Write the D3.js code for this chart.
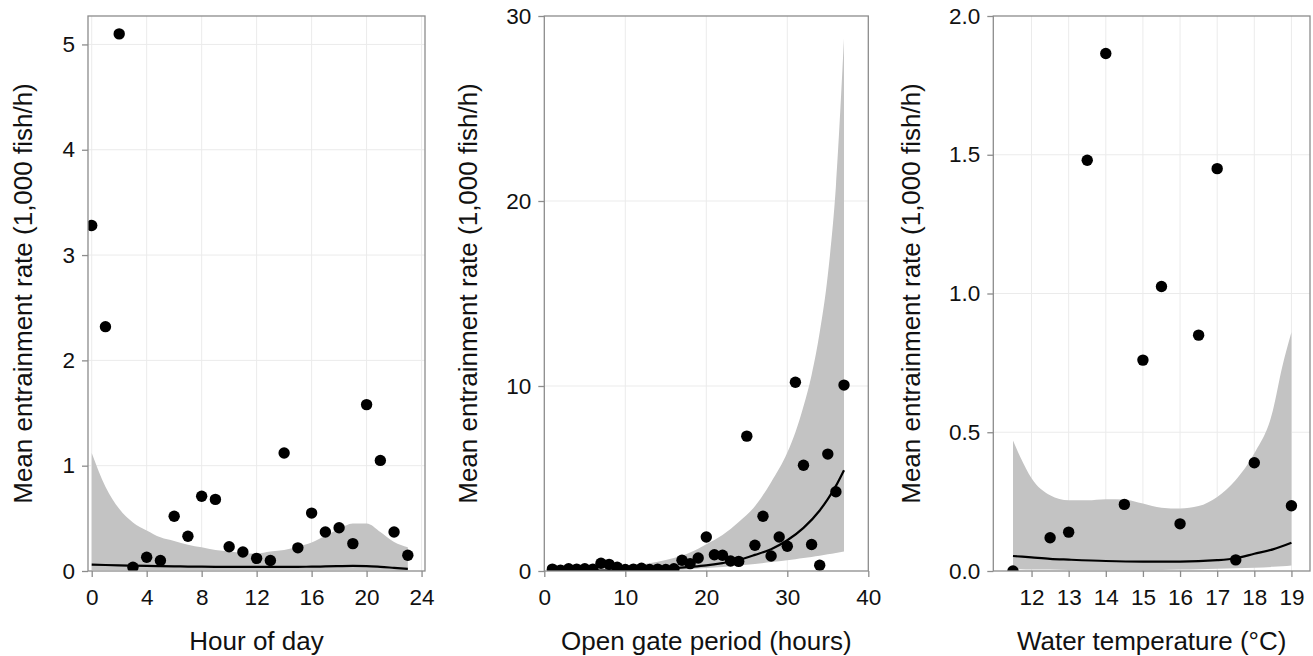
<!DOCTYPE html>
<html>
<head>
<meta charset="utf-8">
<script src="https://cdn.jsdelivr.net/npm/d3@7"></script>
<style>
  html, body { margin: 0; padding: 0; background: #fff; }
  svg { display: block; font-family: "Liberation Sans", Arial, sans-serif; }
</style>
</head>
<body>
<svg id="chart" width="1313" height="656"></svg>
<script>
// ---------- Panel 1: Hour of day ----------
const hours = [0,1,2,3,4,5,6,7,8,9,10,11,12,13,14,15,16,17,18,19,20,21,22,23];
const hourRate = [3.28,2.32,5.10,0.035,0.13,0.10,0.52,0.33,0.71,0.68,0.23,0.18,0.12,0.10,1.12,0.22,0.55,0.37,0.41,0.26,1.58,1.05,0.37,0.15];
const hourFit = [0.06,0.057,0.054,0.051,0.048,0.046,0.044,0.042,0.041,0.04,0.04,0.04,0.04,0.04,0.04,0.04,0.041,0.043,0.046,0.048,0.047,0.04,0.03,0.02];
const hourUpper = [1.12,0.80,0.59,0.46,0.385,0.32,0.285,0.25,0.225,0.20,0.185,0.17,0.165,0.185,0.20,0.23,0.27,0.335,0.40,0.45,0.45,0.37,0.275,0.225];
const hourLower = [0.01,0.01,0.01,0.01,0.01,0.01,0.01,0.01,0.01,0.01,0.01,0.01,0.01,0.01,0.01,0.01,0.01,0.01,0.01,0.01,0.01,0.01,0.008,0.005];
const hourTicksX = [0,4,8,12,16,20,24];
const hourTicksY = [0,1,2,3,4,5];

// ---------- Panel 2: Open gate period ----------
const gateHours = [1,2,3,4,5,6,7,8,9,10,11,12,13,14,15,16,17,18,19,20,21,22,23,24,25,26,27,28,29,30,31,32,33,34,35,36,37];
const gateRate = [0.10,0.05,0.12,0.10,0.12,0.10,0.42,0.36,0.20,0.08,0.10,0.15,0.08,0.10,0.08,0.12,0.58,0.40,0.70,1.84,0.88,0.85,0.54,0.52,7.29,1.39,2.96,0.81,1.84,1.34,10.2,5.72,1.43,0.31,6.32,4.28,10.05];
const gateFitX = [1,5,10,15,18,20,22,24,26,28,30,32,34,35,36,37];
const gateFit = [0.012,0.024,0.055,0.13,0.22,0.30,0.43,0.60,0.87,1.18,1.66,2.33,3.27,3.88,4.6,5.45];
const gateBandX = [1,5,10,14,16,18,20,22,24,26,28,30,31,32,33,34,35,36,37];
const gateUpper = [0.05,0.10,0.25,0.50,0.70,1.00,1.45,1.95,2.65,3.50,4.80,6.40,7.50,8.90,10.6,12.9,16.0,20.8,28.8];
const gateLower = [0.002,0.005,0.02,0.04,0.06,0.10,0.16,0.22,0.30,0.38,0.48,0.58,0.64,0.70,0.76,0.82,0.90,0.97,1.05];
const gateTicksX = [0,10,20,30,40];
const gateTicksY = [0,10,20,30];

// ---------- Panel 3: Water temperature ----------
const temps = [11.5,12.5,13,13.5,14,14.5,15,15.5,16,16.5,17,17.5,18,19];
const tempRate = [0.0,0.12,0.14,1.48,1.865,0.24,0.76,1.025,0.17,0.85,1.45,0.04,0.39,0.235];
const tempBandX = [11.5,11.7,12,12.5,13,13.5,14,14.5,15,15.5,16,16.5,17,17.5,18,18.5,18.75,19];
const tempUpper = [0.47,0.41,0.334,0.273,0.255,0.255,0.259,0.258,0.243,0.228,0.225,0.234,0.267,0.328,0.424,0.578,0.734,0.86];
const tempLower = [0.006,0.006,0.005,0.005,0.004,0.004,0.004,0.004,0.004,0.004,0.005,0.006,0.008,0.01,0.012,0.015,0.017,0.02];
const tempFitX = [11.5,12,12.5,13,14,15,16,17,17.5,18,18.5,19];
const tempFit = [0.054,0.049,0.044,0.041,0.036,0.034,0.034,0.039,0.046,0.062,0.078,0.102];
const tempTicksX = [12,13,14,15,16,17,18,19];
const tempTicksY = [0.0,0.5,1.0,1.5,2.0];

const yTitle = "Mean entrainment rate (1,000 fish/h)";

const svg = d3.select("#chart");
const plotTop = 16, plotBottom = 571;

const panels = [
  { id: "p1", left: 88, right: 425, xDom: [-0.27, 24.25], yDom: [0, 5.27],
    px: hours, py: hourRate, bx: hours, bu: hourUpper, bl: hourLower, fx: hours, fy: hourFit,
    tx: hourTicksX, ty: hourTicksY, yfmt: d => d3.format("d")(d),
    xTitle: "Hour of day", yTitleX: 23 },
  { id: "p2", left: 544.3, right: 868.3, xDom: [0, 40], yDom: [0, 30],
    px: gateHours, py: gateRate, bx: gateBandX, bu: gateUpper, bl: gateLower, fx: gateFitX, fy: gateFit,
    tx: gateTicksX, ty: gateTicksY, yfmt: d => d3.format("d")(d),
    xTitle: "Open gate period (hours)", yTitleX: 468 },
  { id: "p3", left: 993.3, right: 1310, xDom: [10.97, 19.5], yDom: [0, 2.0],
    px: temps, py: tempRate, bx: tempBandX, bu: tempUpper, bl: tempLower, fx: tempFitX, fy: tempFit,
    tx: tempTicksX, ty: tempTicksY, yfmt: d => d3.format(".1f")(d),
    xTitle: "Water temperature (°C)", yTitleX: 911 }
];

const defs = svg.append("defs");

panels.forEach(p => {
  const x = d3.scaleLinear().domain(p.xDom).range([p.left, p.right]);
  const y = d3.scaleLinear().domain(p.yDom).range([plotBottom, plotTop]);
  const g = svg.append("g");

  defs.append("clipPath").attr("id", "clip-" + p.id)
    .append("rect").attr("x", p.left).attr("y", plotTop)
    .attr("width", p.right - p.left).attr("height", plotBottom - plotTop);

  // grid
  const grid = g.append("g").attr("stroke", "#ebebeb").attr("stroke-width", 1);
  p.tx.forEach(t => {
    const xx = x(t);
    if (xx > p.left + 1 && xx < p.right - 1)
      grid.append("line").attr("x1", xx).attr("x2", xx).attr("y1", plotTop).attr("y2", plotBottom);
  });
  p.ty.forEach(t => {
    const yy = y(t);
    if (yy > plotTop + 1 && yy < plotBottom - 1)
      grid.append("line").attr("x1", p.left).attr("x2", p.right).attr("y1", yy).attr("y2", yy);
  });

  const plot = g.append("g").attr("clip-path", "url(#clip-" + p.id + ")");

  // ribbon
  const band = p.bx.map((d, i) => ({ x: d, lo: p.bl[i], hi: p.bu[i] }));
  plot.append("path").datum(band)
    .attr("fill", "#c3c3c3")
    .attr("d", d3.area().curve(d3.curveMonotoneX)
      .x(d => x(d.x)).y0(d => y(d.lo)).y1(d => y(d.hi)));

  // fit line
  const fit = p.fx.map((d, i) => ({ x: d, y: p.fy[i] }));
  plot.append("path").datum(fit)
    .attr("fill", "none").attr("stroke", "#000").attr("stroke-width", 2.2)
    .attr("d", d3.line().curve(d3.curveMonotoneX).x(d => x(d.x)).y(d => y(d.y)));

  // points
  plot.selectAll("circle.pt").data(p.px.map((d, i) => ({ x: d, y: p.py[i] })))
    .join("circle").attr("class", "pt")
    .attr("cx", d => x(d.x)).attr("cy", d => y(d.y)).attr("r", 5.7)
    .attr("fill", "#000");

  // border
  g.append("rect").attr("x", p.left).attr("y", plotTop)
    .attr("width", p.right - p.left).attr("height", plotBottom - plotTop)
    .attr("fill", "none").attr("stroke", "#8c8c8c").attr("stroke-width", 1.3);

  // axes
  const xAxis = d3.axisBottom(x).tickValues(p.tx).tickSize(6).tickPadding(12)
    .tickFormat(d3.format("d"));
  const gx = g.append("g").attr("transform", `translate(0,${plotBottom})`).call(xAxis);
  gx.select(".domain").remove();
  gx.selectAll(".tick line").attr("stroke", "#8c8c8c").attr("stroke-width", 1.3);
  gx.selectAll(".tick text").attr("font-size", 22.5).attr("fill", "#111")
    .attr("font-family", "Liberation Sans, Arial, sans-serif");

  const yAxis = d3.axisLeft(y).tickValues(p.ty).tickSize(6).tickPadding(7)
    .tickFormat(p.yfmt);
  const gy = g.append("g").attr("transform", `translate(${p.left},0)`).call(yAxis);
  gy.select(".domain").remove();
  gy.selectAll(".tick line").attr("stroke", "#8c8c8c").attr("stroke-width", 1.3);
  gy.selectAll(".tick text").attr("font-size", 22.5).attr("fill", "#111")
    .attr("font-family", "Liberation Sans, Arial, sans-serif");

  // titles
  g.append("text").attr("x", (p.left + p.right) / 2).attr("y", 650)
    .attr("text-anchor", "middle").attr("font-size", 26).attr("fill", "#111")
    .text(p.xTitle);
  g.append("text")
    .attr("transform", `translate(${p.yTitleX},${(plotTop + plotBottom) / 2}) rotate(-90)`)
    .attr("text-anchor", "middle").attr("dominant-baseline", "central")
    .attr("font-size", 26).attr("fill", "#111")
    .text(yTitle);
});
</script>
</body>
</html>
